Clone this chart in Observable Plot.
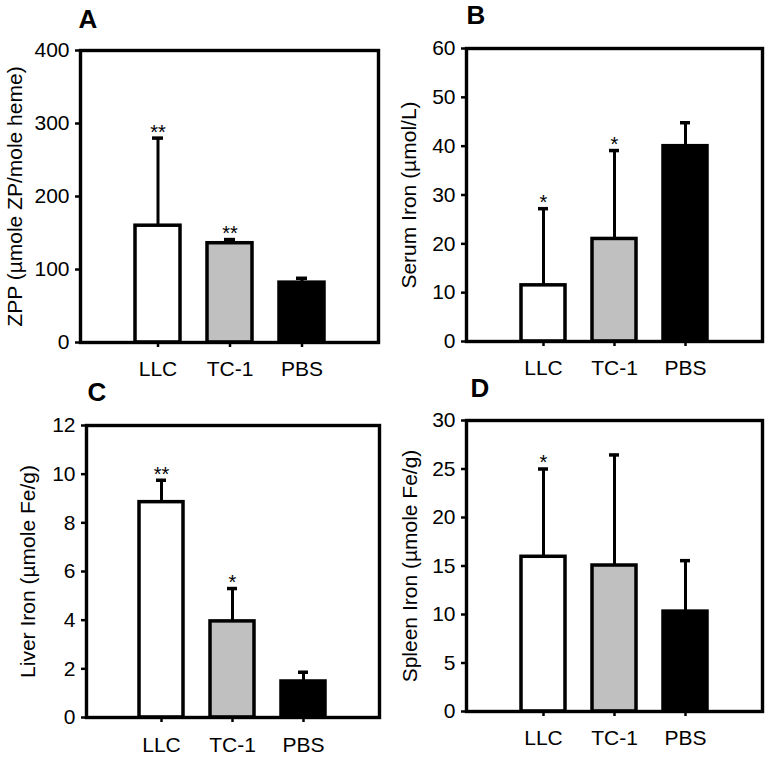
<!DOCTYPE html>
<html>
<head>
<meta charset="utf-8">
<script src="https://cdn.jsdelivr.net/npm/d3@7"></script>
<script src="https://cdn.jsdelivr.net/npm/@observablehq/plot@0.6"></script>
<style>
  html, body { margin: 0; padding: 0; background: #fff; }
  #root { position: relative; width: 768px; height: 757px; background: #fff; }
  #root > div, #root > svg { position: absolute; }
</style>
</head>
<body>
<div id="root"></div>
<script>
// ---- data ----
const groups = ["LLC", "TC-1", "PBS"];
const groupFills = ["#ffffff", "#c0c0c0", "#000000"];

const zppMean = [160, 136, 82];
const zppErr = [120, 5, 6];
const zppStars = ["**", "**", ""];
const zppTicks = [0, 100, 200, 300, 400];

const serumMean = [11.5, 21, 40];
const serumErr = [15.7, 18.1, 4.8];
const serumStars = ["*", "*", ""];
const serumTicks = [0, 10, 20, 30, 40, 50, 60];

const liverMean = [8.85, 3.95, 1.48];
const liverErr = [0.9, 1.35, 0.38];
const liverStars = ["**", "*", ""];
const liverTicks = [0, 2, 4, 6, 8, 10, 12];

const spleenMean = [15.95, 15.05, 10.3];
const spleenErr = [9.05, 11.4, 5.25];
const spleenStars = ["*", "", ""];
const spleenTicks = [0, 5, 10, 15, 20, 25, 30];

const panels = [
  {letter: "A", label: "ZPP (\u00b5mole ZP/mole heme)", mean: zppMean, err: zppErr, stars: zppStars, ticks: zppTicks,
   left: 0, top: 0, h: 378, m: {l: 80, r: 6, t: 50, b: 36}, pad: 14, labDx: -65, letDx: -2, letDy: -31},
  {letter: "B", label: "Serum Iron (\u00b5mol/L)", mean: serumMean, err: serumErr, stars: serumStars, ticks: serumTicks,
   left: 384, top: 0, h: 378, m: {l: 82, r: 6, t: 48, b: 37}, pad: 14, labDx: -57, letDx: 0, letDy: -33},
  {letter: "C", label: "Liver Iron (\u00b5mole Fe/g)", mean: liverMean, err: liverErr, stars: liverStars, ticks: liverTicks,
   left: 0, top: 378, h: 379, m: {l: 86, r: 5, t: 47, b: 40}, pad: 15, labDx: -58, letDx: 1, letDy: -33},
  {letter: "D", label: "Spleen Iron (\u00b5mole Fe/g)", mean: spleenMean, err: spleenErr, stars: spleenStars, ticks: spleenTicks,
   left: 384, top: 378, h: 379, m: {l: 82, r: 6, t: 42, b: 46}, pad: 14, labDx: -56, letDx: 4, letDy: -32}
];

const root = document.getElementById("root");
const FONT = "'Liberation Sans', Arial, Helvetica, sans-serif";

for (const p of panels) {
  const rows = groups.map((g, i) => ({g, fill: groupFills[i], mean: p.mean[i], top: p.mean[i] + p.err[i], star: p.stars[i]}));
  const ymax = p.ticks[p.ticks.length - 1];
  const chart = Plot.plot({
    width: 384,
    height: p.h,
    marginLeft: p.m.l,
    marginRight: p.m.r,
    marginTop: p.m.t,
    marginBottom: p.m.b,
    style: {fontFamily: FONT, fontSize: "21px", color: "#000", background: "transparent", overflow: "visible"},
    x: {type: "band", domain: groups, paddingInner: 0.38, paddingOuter: 0.75},
    y: {domain: [0, ymax]},
    color: {type: "identity"},
    marks: [
      Plot.ruleX(rows, {x: "g", y1: "mean", y2: "top", stroke: "#000", strokeWidth: 3}),
      Plot.tickY(rows, {x: "g", y: "top", stroke: "#000", strokeWidth: 3.5, insetLeft: 17, insetRight: 17}),
      Plot.barY(rows, {x: "g", y: "mean", fill: "fill", stroke: "#000", strokeWidth: 3.5}),
      Plot.text(rows, {x: "g", y: "top", text: "star", dy: -6, fontSize: 20, fill: "#000"}),
      Plot.frame({stroke: "#000", strokeWidth: 3.4}),
      Plot.axisY({ticks: p.ticks, tickSize: 5, tickPadding: 6, fontSize: 21, strokeWidth: 2.5, label: null}),
      Plot.axisX({tickSize: 5, tickPadding: p.pad, fontSize: 21, strokeWidth: 2.5, label: null}),
      Plot.text([p.label], {frameAnchor: "left", text: d => d, rotate: -90, dx: p.labDx, textAnchor: "middle", lineAnchor: "middle", fontSize: 21, fill: "#000"}),
      Plot.text([p.letter], {frameAnchor: "top-left", text: d => d, dx: p.letDx, dy: p.letDy, textAnchor: "start", lineAnchor: "middle", fontSize: 26, fontWeight: "bold", fill: "#000"})
    ]
  });
  chart.style.left = p.left + "px";
  chart.style.top = p.top + "px";
  root.appendChild(chart);
}
</script>
</body>
</html>
